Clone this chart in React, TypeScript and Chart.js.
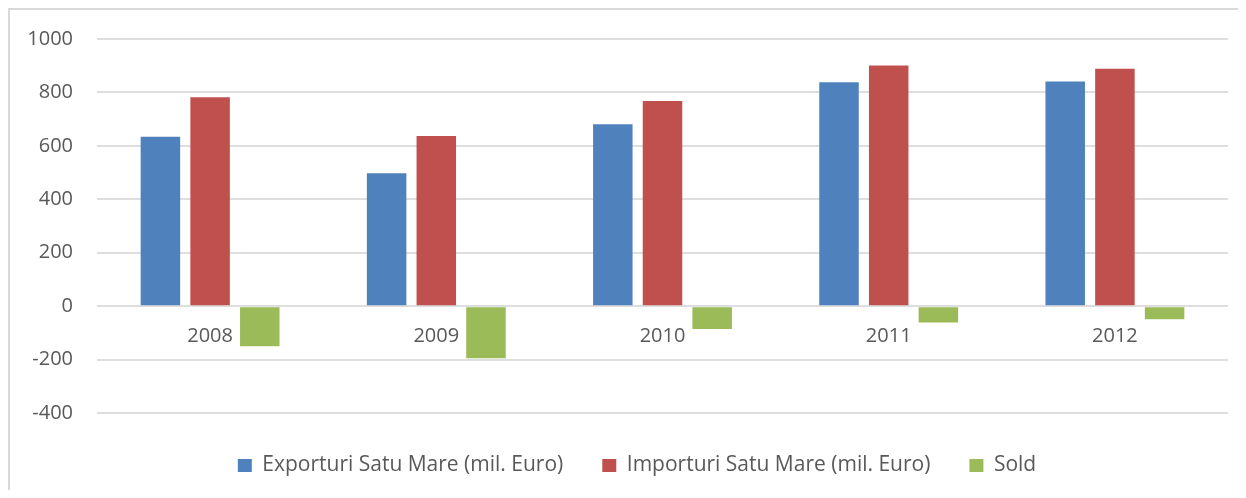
import React, { useEffect, useRef } from "react";
import { Chart, registerables } from "chart.js";

Chart.register(...registerables);

const years = ["2008", "2009", "2010", "2011", "2012"];
const exporturi = [634, 497, 681, 838, 841];
const importuri = [782, 637, 768, 901, 889];
const sold = [-150, -195, -86, -61, -49];
const seriesNames = [
  "Exporturi Satu Mare (mil. Euro)",
  "Importuri Satu Mare (mil. Euro)",
  "Sold",
];
const yMin = -400;
const yMax = 1000;
const yStep = 200;

const FONT = "'Open Sans', 'Noto Sans', sans-serif";
const TEXT = "#595959";

const legendShift = {
  id: "legendShift",
  afterLayout(chart: any) {
    const lg = chart.legend;
    if (lg) {
      lg.left += 36;
      lg.top += 3;
    }
  },
};

export default function App() {
  const ref = useRef<HTMLCanvasElement | null>(null);

  useEffect(() => {
    document.documentElement.style.overflow = "hidden";
    const canvas = ref.current;
    if (!canvas) return;
    const chart = new Chart(canvas, {
      type: "bar",
      data: {
        labels: years,
        datasets: [
          { label: seriesNames[0], data: exporturi, backgroundColor: "#4F81BD" },
          { label: seriesNames[1], data: importuri, backgroundColor: "#C0504D" },
          { label: seriesNames[2], data: sold, backgroundColor: "#9BBB59" },
        ],
      },
      plugins: [legendShift],
      options: {
        responsive: false,
        animation: false,
        devicePixelRatio: 1,
        datasets: {
          bar: { categoryPercentage: 0.659, barPercentage: 0.795, borderWidth: 0 },
        },
        layout: { padding: { left: 0, right: 18, top: 29, bottom: 15 } },
        plugins: {
          tooltip: { enabled: false },
          legend: {
            position: "bottom",
            labels: {
              boxWidth: 14,
              boxHeight: 13,
              padding: 39,
              color: TEXT,
              font: { family: FONT, size: 21 },
            },
          },
        },
        scales: {
          x: {
            type: "category",
            position: { y: 0 } as any,
            grid: { display: false, drawTicks: false },
            border: { display: false },
            ticks: { color: TEXT, font: { family: FONT, size: 20 }, padding: 18, maxRotation: 0 },
          },
          y: {
            min: yMin,
            max: yMax,
            ticks: {
              stepSize: yStep,
              color: TEXT,
              font: { family: FONT, size: 20 },
              padding: 24,
              callback: (v: any) => String(v),
            },
            grid: { color: "#dedede", lineWidth: 2, drawTicks: false },
            border: { display: false },
            afterFit: (scale: any) => {
              scale.width = 87;
              scale.paddingTop = 0;
              scale.paddingBottom = 0;
            },
          },
        },
      },
    });
    return () => chart.destroy();
  }, []);

  return (
    <div
      style={{
        width: 1236,
        height: 488,
        borderTop: "2px solid #d9d9d9",
        borderLeft: "2px solid #d9d9d9",
        marginRight: -8,
        marginBottom: -8,
        background: "#fff",
      }}
    >
      <canvas ref={ref} width={1236} height={488} style={{ display: "block" }} />
    </div>
  );
}
